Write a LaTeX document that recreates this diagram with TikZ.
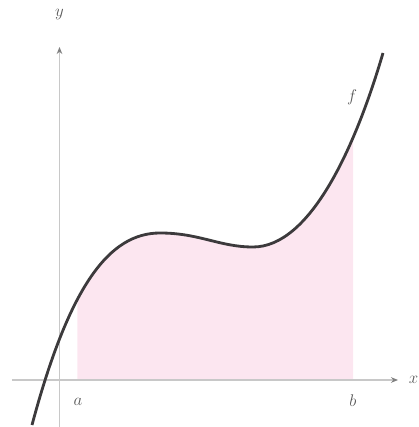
\documentclass[tikz,border=0pt]{standalone}
\usepackage{amsmath}
\usepackage{tikz}
\usetikzlibrary{arrows.meta}
\definecolor{areapink}{RGB}{252,230,240}
\definecolor{axisgray}{RGB}{200,200,200}
\definecolor{curvegray}{RGB}{60,58,60}
\newcommand{\fcurve}{(-27.5,-45) .. controls (10,95) and (50,147) .. (100.5,147) .. controls (140,147) and (160,133) .. (193.5,133) .. controls (250,133) and (295,230) .. (323.5,327)}

\begin{document}
\begin{tikzpicture}[x=0.025cm,y=0.025cm]
\large
\useasboundingbox (-59.5,-47) rectangle (359.5,380);
% shaded area between a and b
\begin{scope}
\clip (18,0) rectangle (293.5,400);
\fill[areapink] \fcurve -- (323.5,0) -- (-27.5,0) -- cycle;
\end{scope}
\coordinate (xstart) at (-47.5,0);
\coordinate (xend) at (338.5,0);
\coordinate (ystart) at (0,-47);
\coordinate (yend) at (0,333);
\draw[axisgray,line width=1.4pt,-{Stealth[length=5pt,width=4pt,gray]}] (xstart) -- (xend);
\draw[axisgray,line width=1.4pt,-{Stealth[length=5pt,width=4pt,gray]}] (ystart) -- (yend);
\draw[curvegray,line width=2pt] \fcurve;
\draw (0,365) node[gray!70!black] (ylab) {$y$};
\draw (354,0) node[gray!70!black] (xlab) {$x$};
\draw (18.5,-22) node[gray!70!black] (alab) {$a$};
\draw (293.5,-21) node[gray!70!black] (blab) {$b$};
\draw (292.5,283) node[gray!70!black] (flab) {$f$};
\end{tikzpicture}
\end{document}
